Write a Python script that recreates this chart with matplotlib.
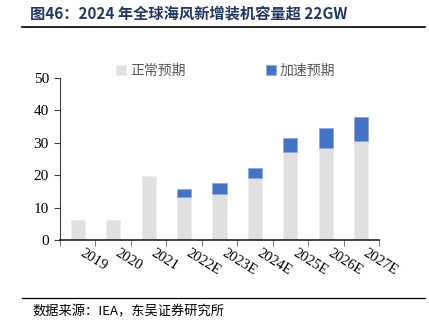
import matplotlib.pyplot as plt
import numpy as np

plt.rcParams['font.family'] = ['Noto Sans CJK SC', 'DejaVu Sans']

years = ['2019', '2020', '2021', '2022E', '2023E', '2024E', '2025E', '2026E', '2027E']
normal = [6.2, 6.1, 19.8, 13.4, 14.1, 19.1, 27.1, 28.3, 30.6]
accel_total = [None, None, None, 15.8, 17.5, 22.2, 31.4, 34.7, 38.1]

fig = plt.figure(figsize=(4.29, 3.27), dpi=100)
ax = fig.add_axes([60 / 429, 87 / 327, 319 / 429, 162 / 327])

x = np.arange(len(years))
ax.bar(x, normal, width=0.4, color='#e0e0e0', edgecolor='#ececec', linewidth=0.6,
       label='正常预期', zorder=2)

# only forecast years carry the accelerated increment
idx = [i for i, t in enumerate(accel_total) if t is not None]
ax.bar(x[idx], [accel_total[i] - normal[i] for i in idx], width=0.4,
       bottom=[normal[i] for i in idx], color='#4472c4', edgecolor='#8fa9dc',
       linewidth=0.6, label='加速预期', zorder=2)

ax.set_xlim(-0.5, len(years) - 0.5)
ax.set_ylim(0, 50)
ax.set_yticks(range(0, 51, 10))
ax.set_yticklabels([str(v) for v in range(0, 51, 10)], family='Liberation Serif', fontsize=11)
ax.set_xticks(x)
ax.set_xticklabels(years, family='Liberation Serif', fontsize=10.5, rotation=-32,
                   ha='left', va='top', rotation_mode='default')
ax.tick_params(axis='x', length=0, pad=5)
ax.set_xticks(np.arange(-0.5, len(years), 1), minor=True)
ax.tick_params(axis='x', which='minor', length=4, width=0.8, color='#7f7f7f')
ax.tick_params(axis='y', length=4, width=0.8, color='#404040', pad=4)

for s in ['top', 'right']:
    ax.spines[s].set_visible(False)
ax.spines['left'].set_color('#404040')
ax.spines['bottom'].set_color('#202020')
ax.spines['bottom'].set_linewidth(1.2)

ax.legend(loc='upper center', bbox_to_anchor=(0.52, 1.165), ncol=2, frameon=False,
          fontsize=10, handlelength=0.7, handleheight=0.7, columnspacing=5.8,
          handletextpad=0.3, labelcolor='#595959')

fig.text(30 / 429, 1 - 14 / 327, '图46：2024 年全球海风新增装机容量超 22GW',
         fontsize=11, fontweight='bold', color='#1f3864', va='center')
fig.add_artist(plt.Line2D([22 / 429, 425 / 429], [1 - 27 / 327, 1 - 27 / 327],
                          color='#000000', linewidth=1.2))
fig.add_artist(plt.Line2D([22 / 429, 425 / 429], [1 - 298 / 327, 1 - 298 / 327],
                          color='#000000', linewidth=0.9))
fig.text(32 / 429, 1 - 312 / 327, '数据来源：IEA，东吴证券研究所', fontsize=9.5,
         color='#000000', va='center')

fig.savefig('out.png', dpi=100)
